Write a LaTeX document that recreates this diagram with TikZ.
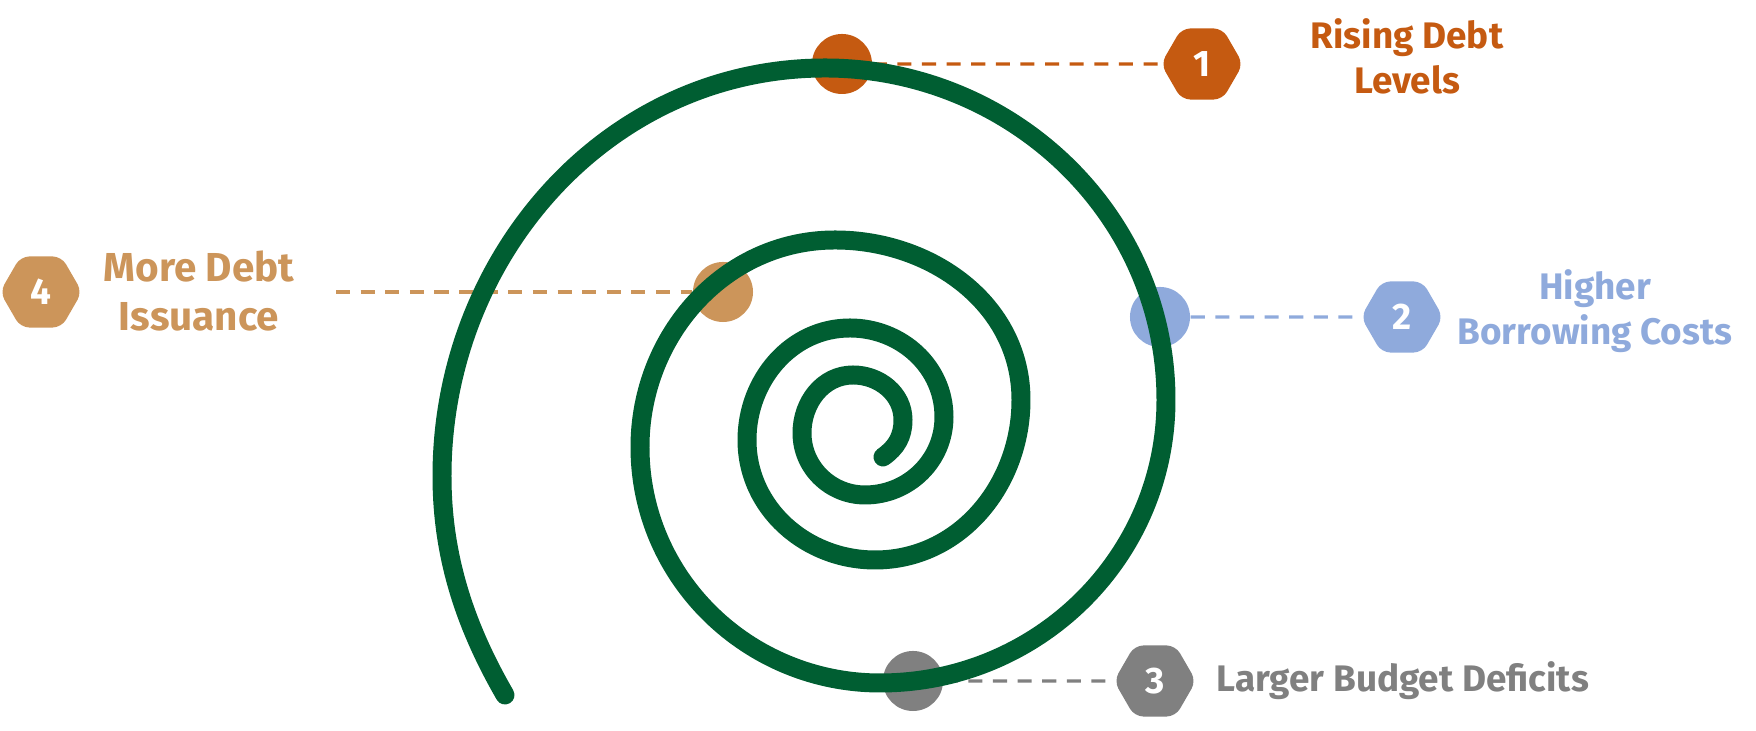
\documentclass[tikz,border=0pt]{standalone}
\usepackage{fontspec}
\setmainfont{Fira Sans}
\usepackage{tikz}
\usetikzlibrary{shapes.geometric}

\definecolor{debtorange}{HTML}{C55A11}
\definecolor{costblue}{HTML}{8FAADC}
\definecolor{deficitgray}{HTML}{808080}
\definecolor{issuetan}{HTML}{CC955A}
\definecolor{spiralgreen}{HTML}{005E32}

\begin{document}
\begin{tikzpicture}[
    x=0.01cm, y=0.01cm,
    spiral/.style={draw=spiralgreen, line width=5.4pt, line cap=round},
    marker_dot/.style={circle, fill=#1, minimum size=0.6cm, inner sep=0pt},
    step_hex/.style={regular polygon, regular polygon sides=6, fill=#1, minimum size=0.82cm, inner sep=0pt, rounded corners=2.5pt, text=white, font=\fontsize{10.5}{12.8}\selectfont\bfseries},
    dash_link/.style={draw=#1, line width=0.9pt, dash pattern=on 4pt off 3pt},
    label_text/.style={text=#1, align=center, inner sep=0pt, font=\fontsize{10.5}{12.8}\selectfont\bfseries}
]
\useasboundingbox (0,0) rectangle (1756,731);

% markers sitting on the spiral
\node[marker_dot=debtorange] (dot1) at (842,667) {};
\node[marker_dot=costblue] (dot2) at (1160,414) {};
\node[marker_dot=deficitgray] (dot3) at (913,50) {};
\node[marker_dot=issuetan] (dot4) at (723,439) {};

% numbered steps
\node[step_hex=debtorange] (hex1) at (1202,667) {1};
\node[step_hex=costblue] (hex2) at (1402,414) {2};
\node[step_hex=deficitgray] (hex3) at (1155,50) {3};
\node[step_hex=issuetan] (hex4) at (41,439) {4};
\coordinate (start4) at (336,439);

\draw[dash_link=debtorange] (dot1) -- (hex1);
\draw[dash_link=costblue] (dot2) -- (hex2);
\draw[dash_link=deficitgray] (dot3) -- (hex3);
\draw[dash_link=issuetan] (start4) -- (dot4);

% the spiral, from the inner end outwards
\draw[spiral] (883,274) to[out=35,in=270] (903,311)
  to[out=90,in=0] (853,356) to[out=180,in=90] (802,298) to[out=270,in=180] (865,236)
  to[out=0,in=270] (944,314) to[out=90,in=0] (850,403) to[out=180,in=90] (747,291) to[out=270,in=180] (875,171)
  to[out=0,in=270] (1021,331) to[out=90,in=0] (835,491) to[out=180,in=90] (640,284) to[out=270,in=180] (880,48)
  to[out=0,in=270] (1166,331) to[out=90,in=0] (825,663) to[out=180,in=90] (442,255) to[out=270,in=120,looseness=0.9] (505,36);

% labels
\node[label_text=debtorange] (lab1) at (1407,675) {Rising Debt\\Levels};
\node[label_text=costblue] (lab2) at (1595,420) {Higher\\Borrowing Costs};
\node[label_text=deficitgray, anchor=base west] (lab3) at (1216,39) {Larger Budget Deficits};
\node[label_text=issuetan, font=\fontsize{11.5}{14}\selectfont\bfseries] (lab4) at (199,440) {More Debt\\Issuance};

\end{tikzpicture}
\end{document}
